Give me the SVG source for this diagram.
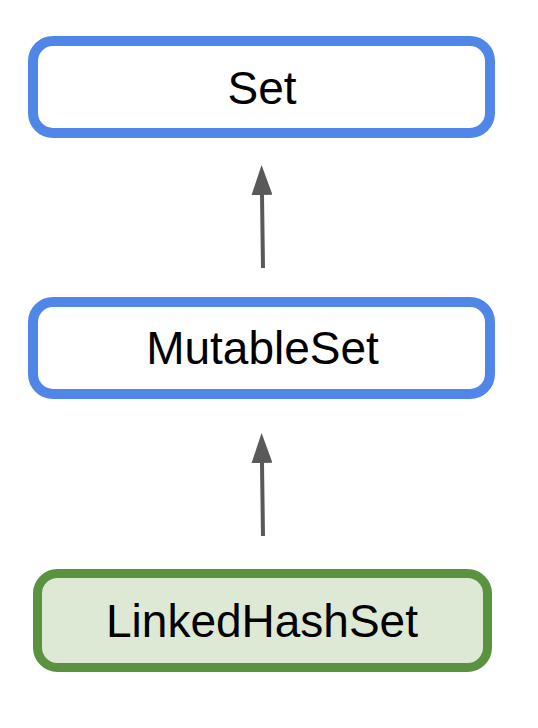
<svg xmlns="http://www.w3.org/2000/svg" width="538" height="728" viewBox="0 0 538 728">
<style>
.blue{fill:#ffffff;stroke:#5086e8;stroke-width:10}
.green{fill:#dde9d4;stroke:#5b9240;stroke-width:9}
.lbl{font-family:"Liberation Sans",Arial,sans-serif;font-size:46px;fill:#000;text-anchor:middle}
.edge{stroke:#595959;stroke-width:4;fill:none;marker-end:url(#ah)}
</style>
<defs>
<marker id="ah" markerUnits="userSpaceOnUse" markerWidth="30" markerHeight="21" refX="0" refY="10.5" orient="auto" viewBox="0 0 30 21">
<path d="M0,0 L30,10.5 L0,21 Z" fill="#595959"/>
</marker>
</defs>
<g id="connectors">
<line class="edge" x1="263" y1="268" x2="262" y2="195"/>
<line class="edge" x1="263" y1="536" x2="262" y2="463"/>
</g>
<g id="node-set">
<rect class="blue" x="33" y="41" width="457" height="92" rx="20"/>
<text class="lbl" x="262" y="104">Set</text>
</g>
<g id="node-mutableset">
<rect class="blue" x="33" y="302" width="457" height="92" rx="20"/>
<text class="lbl" x="262.5" y="364">MutableSet</text>
</g>
<g id="node-linkedhashset">
<rect class="green" x="37.5" y="573.5" width="450" height="94" rx="20"/>
<text class="lbl" x="262" y="637">LinkedHashSet</text>
</g>
</svg>
